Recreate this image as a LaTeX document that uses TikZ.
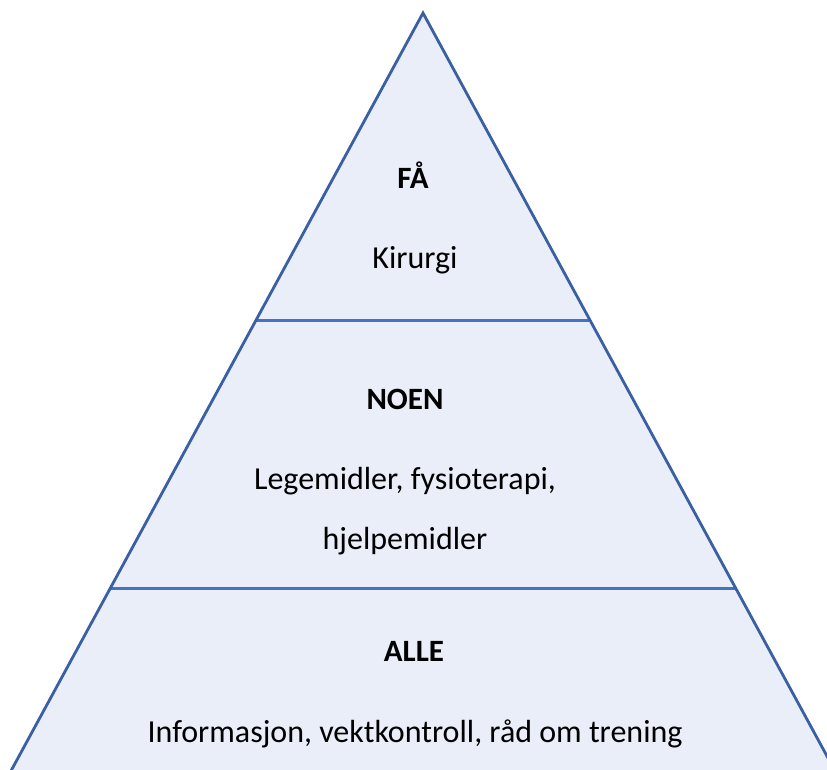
\documentclass[tikz,border=0pt]{standalone}
\usepackage{fontspec}
\setmainfont{Carlito}
\definecolor{edgeblue}{HTML}{3B5FA3}
\definecolor{lineblue}{HTML}{4472C4}
\definecolor{fillblue}{HTML}{E9EEF8}
\tikzset{
  lbl/.style={font=\fontsize{32}{38}\selectfont, inner sep=0pt, anchor=base},
  hd/.style={lbl, font=\fontsize{31}{38}\selectfont\bfseries},
}
\begin{document}
\begin{tikzpicture}[x=1pt,y=-1pt]
\useasboundingbox (0,0) rectangle (827,769);
\clip (0,0) rectangle (827,769);
\coordinate (apex) at (423,13);
\coordinate (bl) at (-13,815);
\coordinate (br) at (859,815);
\fill[fillblue] (apex) -- (bl) -- (br) -- cycle;
\draw[lineblue, line width=3pt] (257,320) -- (589,320);
\draw[lineblue, line width=3pt] (111,588) -- (735,588);
\draw[edgeblue, line width=2.8pt, line join=miter] (bl) -- (apex) -- (br);
\node[hd] (fa) at (413,188) {FÅ};
\node[lbl] (kir) at (415,268) {Kirurgi};
\node[hd] (noen) at (405,409) {NOEN};
\node[lbl] (leg) at (405,489) {Legemidler, fysioterapi,};
\node[lbl] (hje) at (405,549) {hjelpemidler};
\node[hd] (alle) at (414,661) {ALLE};
\node[lbl] (inf) at (415,742) {Informasjon, vektkontroll, råd om trening};
\end{tikzpicture}
\end{document}
